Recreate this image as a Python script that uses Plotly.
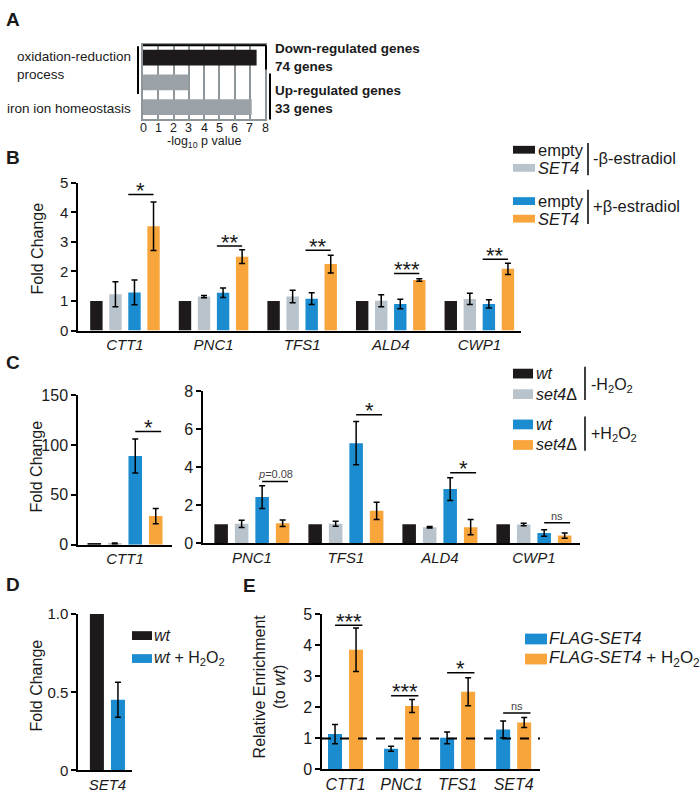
import plotly.graph_objects as go

W, H = 700, 800
FONT = "Liberation Sans, Arial, Helvetica, sans-serif"
BLACK = "#1e1a1b"
GRAY = "#b9c3cc"
BLUE = "#1a8ccf"
ORANGE = "#f8a53c"
AGRAY = "#9aa2a7"
TXT = "#1a1a1a"

# ---------------- DATA ----------------
# Panel A
a_rows = ["down_oxred", "up_oxred", "up_iron"]
a_down_rows = ["down_oxred"]
a_down_values = [7.45]
a_up_rows = ["up_oxred", "up_iron"]
a_up_values = [2.97, 7.13]
a_ticks = [0, 1, 2, 3, 4, 5, 6, 7, 8]

# Panel B
b_genes = ["CTT1", "PNC1", "TFS1", "ALD4", "CWP1"]
b_empty_minus = [1, 1, 1, 1, 1]
b_set4_minus = [1.23, 1.15, 1.15, 1.01, 1.07]
b_set4_minus_err = [0.42, 0.04, 0.21, 0.20, 0.19]
b_empty_plus = [1.29, 1.28, 1.08, 0.90, 0.90]
b_empty_plus_err = [0.42, 0.16, 0.20, 0.16, 0.14]
b_set4_plus = [3.53, 2.50, 2.25, 1.71, 2.09]
b_set4_plus_err = [0.82, 0.23, 0.30, 0.04, 0.19]
b_sig_labels = ["*", "**", "**", "***", "**"]
b_sig_heights = [4.60, 2.86, 2.72, 1.93, 2.41]

# Panel C (left, CTT1)
cl_genes = ["CTT1"]
cl_wt_minus = [1]
cl_set4_minus = [1.2]
cl_set4_minus_err = [0.5]
cl_wt_plus = [89.0]
cl_wt_plus_err = [17.0]
cl_set4_plus = [28.7]
cl_set4_plus_err = [7.6]
cl_sig_labels = ["*"]
cl_sig_heights = [113.5]

# Panel C (right)
cr_genes = ["PNC1", "TFS1", "ALD4", "CWP1"]
cr_wt_minus = [1, 1, 1, 1]
cr_set4_minus = [1.03, 1.03, 0.85, 0.99]
cr_set4_minus_err = [0.19, 0.13, 0.04, 0.07]
cr_wt_plus = [2.43, 5.26, 2.85, 0.55]
cr_wt_plus_err = [0.60, 1.14, 0.60, 0.17]
cr_set4_plus = [1.06, 1.71, 0.85, 0.41]
cr_set4_plus_err = [0.17, 0.45, 0.40, 0.14]
cr_sig_labels = ["<i>p</i>=0.08", "*", "*", "ns"]
cr_sig_heights = [3.25, 6.75, 3.71, 1.08]

# Panel D
d_genes = ["SET4"]
d_wt = [1.0]
d_wt_h2o2 = [0.452]
d_wt_h2o2_err = [0.112]
d_sig_labels = ["**"]
d_sig_heights = [1.035]

# Panel E
e_genes = ["CTT1", "PNC1", "TFS1", "SET4"]
e_flag = [1.14, 0.67, 1.02, 1.29]
e_flag_err = [0.31, 0.08, 0.19, 0.27]
e_flag_h2o2 = [3.85, 2.04, 2.50, 1.51]
e_flag_h2o2_err = [0.70, 0.21, 0.45, 0.16]
e_sig_labels = ["***", "***", "*", "ns"]
e_sig_heights = [4.64, 2.37, 3.11, 1.82]
e_baseline = 1.0

# ---------------- HELPERS ----------------
def px(xp):
    return xp / W

def py(yp):
    return 1 - yp / H

fig = go.Figure()
shapes = []
annotations = []


def ann(text, xp, yp, size=16, xanchor="left", yanchor="middle", bold=False,
        textangle=0, color=TXT, align="left"):
    annotations.append(dict(
        text=text, x=px(xp), y=py(yp), xref="paper", yref="paper",
        xanchor=xanchor, yanchor=yanchor, showarrow=False, textangle=textangle,
        align=align,
        font=dict(size=size, family=FONT, color=color,
                  weight="bold" if bold else "normal"),
    ))


def pline(x0, y0, x1, y1, width=2, color="black"):
    shapes.append(dict(type="line", xref="paper", yref="paper",
                       x0=px(x0), y0=py(y0), x1=px(x1), y1=py(y1),
                       line=dict(color=color, width=width)))


def prect(x0, y0, x1, y1, color):
    shapes.append(dict(type="rect", xref="paper", yref="paper",
                       x0=px(x0), y0=py(y0), x1=px(x1), y1=py(y1),
                       line=dict(width=0), fillcolor=color))


def bar(cats, vals, err, color, ax, off, w):
    fig.add_trace(go.Bar(
        x=cats, y=vals, xaxis="x" + ax, yaxis="y" + ax,
        marker=dict(color=color, line=dict(width=0)),
        width=w, offset=off, showlegend=False, hoverinfo="skip",
        error_y=dict(type="data", array=err if err is not None else [0] * len(vals),
                     visible=err is not None, color="black", thickness=1.5, width=3),
    ))


def sig(ax, labels, heights, x_from, x_to):
    for i, (lab, h) in enumerate(zip(labels, heights)):
        shapes.append(dict(type="line", xref="x" + ax, yref="y" + ax,
                           x0=i + x_from, x1=i + x_to, y0=h, y1=h,
                           line=dict(color="black", width=1.5)))
        is_small = lab == "ns" or "p" in lab
        annotations.append(dict(
            text=lab, xref="x" + ax, yref="y" + ax, x=i + (x_from + x_to) / 2, y=h,
            xanchor="center", yanchor="middle", showarrow=False,
            yshift=7 if is_small else 4,
            font=dict(size=11 if is_small else 22, family=FONT,
                      color="#444" if is_small else TXT),
        ))

# ---------------- PANEL A ----------------
fig.add_trace(go.Bar(x=a_down_values, y=a_down_rows, orientation="h", xaxis="x", yaxis="y",
                     marker=dict(color=BLACK, line=dict(width=0)), width=0.64,
                     showlegend=False, hoverinfo="skip"))
fig.add_trace(go.Bar(x=a_up_values, y=a_up_rows, orientation="h", xaxis="x", yaxis="y",
                     marker=dict(color=AGRAY, line=dict(width=0)), width=0.64,
                     showlegend=False, hoverinfo="skip"))

ann("A", 4, 11, size=19, bold=True)
ann("oxidation-reduction<br>process", 133, 58, size=13.5, xanchor="right")
ann("iron ion homeostasis", 133, 102, size=13.5, xanchor="right")
ann("Down-regulated genes<br>74 genes", 273, 50, size=13.5, bold=True)
ann("Up-regulated genes<br>33 genes", 273, 93, size=13.5, bold=True)
# tick labels of panel A placed through the x axis (data coordinates)
for t in a_ticks:
    annotations.append(dict(text=str(t), x=t, xref="x", y=py(122), yref="paper",
                            xanchor="center", yanchor="middle", showarrow=False,
                            font=dict(size=12.5, family=FONT, color=TXT)))
ann("-log<sub>10</sub> p value", 204, 136, size=12.5, xanchor="center")
pline(143, 37, 266, 37)
pline(266, 37, 266, 62)
pline(270, 66, 270, 113)
pline(138, 38, 138, 87)

# ---------------- PANEL B ----------------
s4, w4 = 0.215, 0.14
offs4 = [(k - 1.5) * s4 - w4 / 2 for k in range(4)]
bar(b_genes, b_empty_minus, None, BLACK, "2", offs4[0], w4)
bar(b_genes, b_set4_minus, b_set4_minus_err, GRAY, "2", offs4[1], w4)
bar(b_genes, b_empty_plus, b_empty_plus_err, BLUE, "2", offs4[2], w4)
bar(b_genes, b_set4_plus, b_set4_plus_err, ORANGE, "2", offs4[3], w4)
sig("2", b_sig_labels, b_sig_heights, offs4[2], offs4[3] + w4 / 2)

ann("B", 4, 152, size=19, bold=True)
ann("Fold Change", 37, 245, size=16, xanchor="center", textangle=-90)

# B legend
b_leg_colors = [BLACK, GRAY, BLUE, ORANGE]
b_leg_labels = ["empty", "<i>SET4</i>", "empty", "<i>SET4</i>"]
b_leg_y = [144, 162.5, 196.5, 214.5]
for c, lab, yy in zip(b_leg_colors, b_leg_labels, b_leg_y):
    prect(513, yy - 4, 535, yy + 4, c)
    ann(lab, 536, yy, size=16.5)
pline(588, 137, 588, 170, width=1.5)
pline(588, 185, 588, 220, width=1.5)
ann("-β-estradiol", 591, 152, size=16.5)
ann("+β-estradiol", 591, 202, size=16.5)

# ---------------- PANEL C ----------------
s4c, w4c = 0.218, 0.144
offs4c = [(k - 1.5) * s4c - w4c / 2 for k in range(4)]
bar(cl_genes, cl_wt_minus, None, BLACK, "3", offs4c[0], w4c)
bar(cl_genes, cl_set4_minus, cl_set4_minus_err, GRAY, "3", offs4c[1], w4c)
bar(cl_genes, cl_wt_plus, cl_wt_plus_err, BLUE, "3", offs4c[2], w4c)
bar(cl_genes, cl_set4_plus, cl_set4_plus_err, ORANGE, "3", offs4c[3], w4c)
sig("3", cl_sig_labels, cl_sig_heights, offs4c[2] + w4c / 2, offs4c[3] + w4c * 0.9)

bar(cr_genes, cr_wt_minus, None, BLACK, "4", offs4c[0], w4c)
bar(cr_genes, cr_set4_minus, cr_set4_minus_err, GRAY, "4", offs4c[1], w4c)
bar(cr_genes, cr_wt_plus, cr_wt_plus_err, BLUE, "4", offs4c[2], w4c)
bar(cr_genes, cr_set4_plus, cr_set4_plus_err, ORANGE, "4", offs4c[3], w4c)
sig("4", cr_sig_labels, cr_sig_heights, offs4c[2] + w4c / 2, offs4c[3] + w4c * 0.9)

ann("C", 4, 362, size=19, bold=True)
ann("Fold Change", 36, 468, size=16, xanchor="center", textangle=-90)

c_leg_colors = [BLACK, GRAY, BLUE, ORANGE]
c_leg_labels = ["<i>wt</i>", "<i>set4</i>Δ", "<i>wt</i>", "<i>set4</i>Δ"]
c_leg_y = [373, 394, 425, 446]
for c, lab, yy in zip(c_leg_colors, c_leg_labels, c_leg_y):
    prect(513, yy - 5, 533, yy + 5, c)
    ann(lab, 534, yy, size=16)
pline(585, 366, 585, 400, width=1.5)
pline(585, 417, 585, 452, width=1.5)
ann("-H<sub>2</sub>O<sub>2</sub>", 589, 385, size=16)
ann("+H<sub>2</sub>O<sub>2</sub>", 589, 435, size=16)

# ---------------- PANEL D ----------------
s2d, w2d = 0.39, 0.26
offs2d = [(k - 0.5) * s2d - w2d / 2 for k in range(2)]
bar(d_genes, d_wt, None, BLACK, "5", offs2d[0], w2d)
bar(d_genes, d_wt_h2o2, d_wt_h2o2_err, BLUE, "5", offs2d[1], w2d)
sig("5", d_sig_labels, d_sig_heights, offs2d[0] + w2d / 2, offs2d[1] + w2d / 2)

ann("D", 4, 589, size=19, bold=True)
ann("Fold Change", 36, 692, size=16, xanchor="center", textangle=-90)
d_leg_colors = [BLACK, BLUE]
d_leg_labels = ["<i>wt</i>", "<i>wt</i> + H<sub>2</sub>O<sub>2</sub>"]
d_leg_y = [641, 664.5]
for c, lab, yy in zip(d_leg_colors, d_leg_labels, d_leg_y):
    prect(132, yy - 4.5, 152, yy + 4.5, c)
    ann(lab, 152, yy, size=16)

# ---------------- PANEL E ----------------
s2e, w2e = 0.375, 0.25
offs2e = [(k - 0.5) * s2e - w2e / 2 for k in range(2)]
bar(e_genes, e_flag, e_flag_err, BLUE, "6", offs2e[0], w2e)
bar(e_genes, e_flag_h2o2, e_flag_h2o2_err, ORANGE, "6", offs2e[1], w2e)
sig("6", e_sig_labels, e_sig_heights, offs2e[0] + w2e / 2, offs2e[1] + w2e * 0.95)
shapes.append(dict(type="line", xref="x6 domain", yref="y6", x0=0, x1=1,
                   y0=e_baseline, y1=e_baseline, line=dict(color="black", width=2, dash="dash")))

ann("E", 241, 590, size=19, bold=True)
ann("Relative Enrichment<br>(to <i>wt</i>)", 270, 693, size=16, xanchor="center",
    textangle=-90, align="center")
e_leg_colors = [BLUE, ORANGE]
e_leg_labels = ["<i>FLAG-SET4</i>", "<i>FLAG-SET4</i> + H<sub>2</sub>O<sub>2</sub>"]
e_leg_y = [644.5, 665]
for c, lab, yy in zip(e_leg_colors, e_leg_labels, e_leg_y):
    prect(525, yy - 5.5, 547, yy + 5.5, c)
    ann(lab, 547, yy, size=17)

# ---------------- AXES ----------------
def yax(y0p, y1p, rng, dtick, size=15, ticktext=None, tickvals=None):
    d = dict(domain=[py(y0p), py(y1p)], range=rng, dtick=dtick,
             showline=True, linecolor="black", linewidth=1.5, ticks="outside",
             ticklen=5, tickwidth=1.5, tickcolor="black", showgrid=False, zeroline=False,
             tickfont=dict(size=size, family=FONT, color=TXT), fixedrange=True)
    if tickvals is not None:
        d.update(tickmode="array", tickvals=tickvals, ticktext=ticktext)
    return d


def xax(x0p, x1p, cats, rng, size=15):
    return dict(domain=[px(x0p), px(x1p)], type="category", categoryarray=cats,
                range=rng, showline=True, linecolor="black", linewidth=1.5, ticks="",
                tickmode="array", tickvals=cats, ticktext=["<i>%s</i>" % c for c in cats],
                tickfont=dict(size=size, family=FONT, color=TXT), showgrid=False,
                zeroline=False, fixedrange=True)

layout = dict(
    width=W, height=H, margin=dict(l=0, r=0, t=0, b=0),
    paper_bgcolor="white", plot_bgcolor="white", barmode="overlay",
    font=dict(family=FONT, color=TXT), showlegend=False,
)

# A
layout["xaxis"] = dict(domain=[px(143), px(265)], range=[0, 8], tickvals=a_ticks,
                       showticklabels=False,
                       showgrid=True, gridcolor="#8f969a", gridwidth=1.5,
                       showline=True, linecolor="#8f969a", linewidth=1.5, mirror=True,
                       ticks="", zeroline=False, anchor="y", fixedrange=True)
layout["yaxis"] = dict(domain=[py(113), py(37)], type="category", categoryarray=a_rows,
                       range=[2.5, -0.5], showticklabels=False, ticks="", showgrid=False,
                       showline=True, linecolor="#8f969a", linewidth=1.5, mirror=True,
                       zeroline=False, anchor="x", fixedrange=True)
# B
layout["xaxis2"] = dict(xax(78, 521, b_genes, [-0.53, 4.47], 15), anchor="y2")
layout["yaxis2"] = dict(yax(329, 177.7, [0, 5], 1, 15), anchor="x2")
# C left
layout["xaxis3"] = dict(xax(78, 172, cl_genes, [-0.5, 0.5], 15), anchor="y3")
layout["yaxis3"] = dict(yax(548, 395, [0, 150], 50, 16), anchor="x3")
# C right
layout["xaxis4"] = dict(xax(203, 580, cr_genes, [-0.52, 3.49], 15), anchor="y4")
layout["yaxis4"] = dict(yax(546.7, 390.7, [0, 8], 2, 16), anchor="x4")
# D
layout["xaxis5"] = dict(xax(78, 132, d_genes, [-0.545, 0.455], 15), anchor="y5")
layout["yaxis5"] = dict(yax(779, 619, [0, 1], 0.5, 15,
                            tickvals=[0, 0.5, 1.0], ticktext=["0", "0.5", "1.0"]), anchor="x5")
# E
layout["xaxis6"] = dict(xax(322, 540, e_genes, [-0.42, 3.47], 16), anchor="y6")
layout["yaxis6"] = dict(yax(778, 619, [0, 5], 1, 16), anchor="x6")

layout["shapes"] = shapes
layout["annotations"] = annotations
fig.update_layout(**layout)

fig.write_html("out.html", config={"displayModeBar": False},
               post_script="document.body.style.margin='0';document.body.style.overflow='hidden';")
